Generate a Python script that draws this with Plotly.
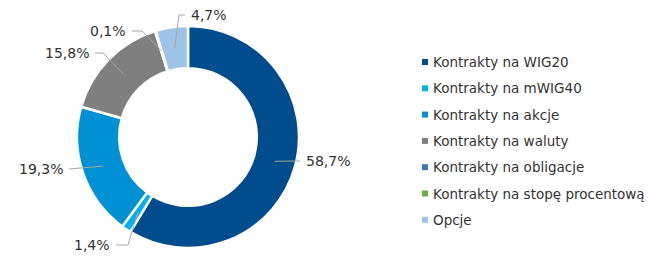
import math
import plotly.graph_objects as go

# ---- data ----
categories = [
    "Kontrakty na WIG20",
    "Kontrakty na mWIG40",
    "Kontrakty na akcje",
    "Kontrakty na waluty",
    "Kontrakty na obligacje",
    "Kontrakty na stopę procentową",
    "Opcje",
]
values = [58.7, 1.4, 19.3, 15.8, 0.1, 0.0, 4.7]
label_texts = ["58,7%", "1,4%", "19,3%", "15,8%", "0,1%", "", "4,7%"]

# ---- style / layout ----
colors = ["#004C8C", "#00B0F0", "#0091D5", "#7F7F7F", "#4472C4", "#70AD47", "#9DC3E6"]
W, H = 650, 278
CX, CY, R = 188, 137, 111
HOLE = 0.62
FONT = "DejaVu Sans"
TXT = "#333333"
LINE = "#A6A6A6"

# label placement (pixel position of text anchor, side, elbow length)
label_place = {
    0: (305, 161, "left", 0),
    1: (111, 245, "right", 12),
    2: (64, 169, "right", 0),
    3: (90, 53, "right", 8),
    4: (127, 31, "right", 10),
    6: (190, 15, "left", 6),
}


def px(x):
    return x / W


def py(y):
    return 1 - y / H


fig = go.Figure()
fig.add_trace(go.Pie(
    labels=categories,
    values=values,
    sort=False,
    direction="clockwise",
    rotation=0,
    hole=HOLE,
    textinfo="none",
    hoverinfo="label+percent",
    marker=dict(colors=colors, line=dict(color="white", width=2.5)),
    domain=dict(x=[px(CX - R), px(CX + R)], y=[py(CY + R), py(CY - R)]),
    showlegend=False,
))

annotations = []
shapes = []
total = sum(values)
cum = 0.0
rmid = R * (1 + HOLE) / 2
for i, v in enumerate(values):
    mid = (cum + v / 2) / total
    cum += v
    if i not in label_place or not label_texts[i]:
        continue
    ang = 2 * math.pi * mid
    sx = CX + rmid * math.sin(ang)
    sy = CY - rmid * math.cos(ang)
    tx, ty, side, elbow = label_place[i]
    if side == "right":
        ex = tx + 5
        bx = ex + elbow
    else:
        ex = tx - 5
        bx = ex - elbow
    path = f"M {px(sx)} {py(sy)} L {px(bx)} {py(ty)} L {px(ex)} {py(ty)}"
    shapes.append(dict(type="path", xref="paper", yref="paper", path=path,
                       line=dict(color=LINE, width=1)))
    annotations.append(dict(text=label_texts[i], x=px(tx), y=py(ty), xref="paper", yref="paper",
                            xanchor=side, yanchor="middle", showarrow=False,
                            font=dict(family=FONT, size=14, color=TXT), borderpad=0))

# manual legend
LX, LY0, LDY, SQ = 422, 62, 26.3, 6
for i, name in enumerate(categories):
    y = LY0 + i * LDY
    shapes.append(dict(type="rect", xref="paper", yref="paper",
                       x0=px(LX), x1=px(LX + SQ), y0=py(y + SQ / 2), y1=py(y - SQ / 2),
                       fillcolor=colors[i], line=dict(width=0)))
    annotations.append(dict(text=name, x=px(LX + 10), y=py(y), xref="paper", yref="paper",
                            xanchor="left", yanchor="middle", showarrow=False,
                            font=dict(family=FONT, size=13.5, color=TXT), borderpad=0))

fig.update_layout(
    width=W, height=H,
    margin=dict(l=0, r=0, t=0, b=0),
    paper_bgcolor="white", plot_bgcolor="white",
    annotations=annotations, shapes=shapes,
    showlegend=False,
)

fig.write_html("out.html", config={"displayModeBar": False})
